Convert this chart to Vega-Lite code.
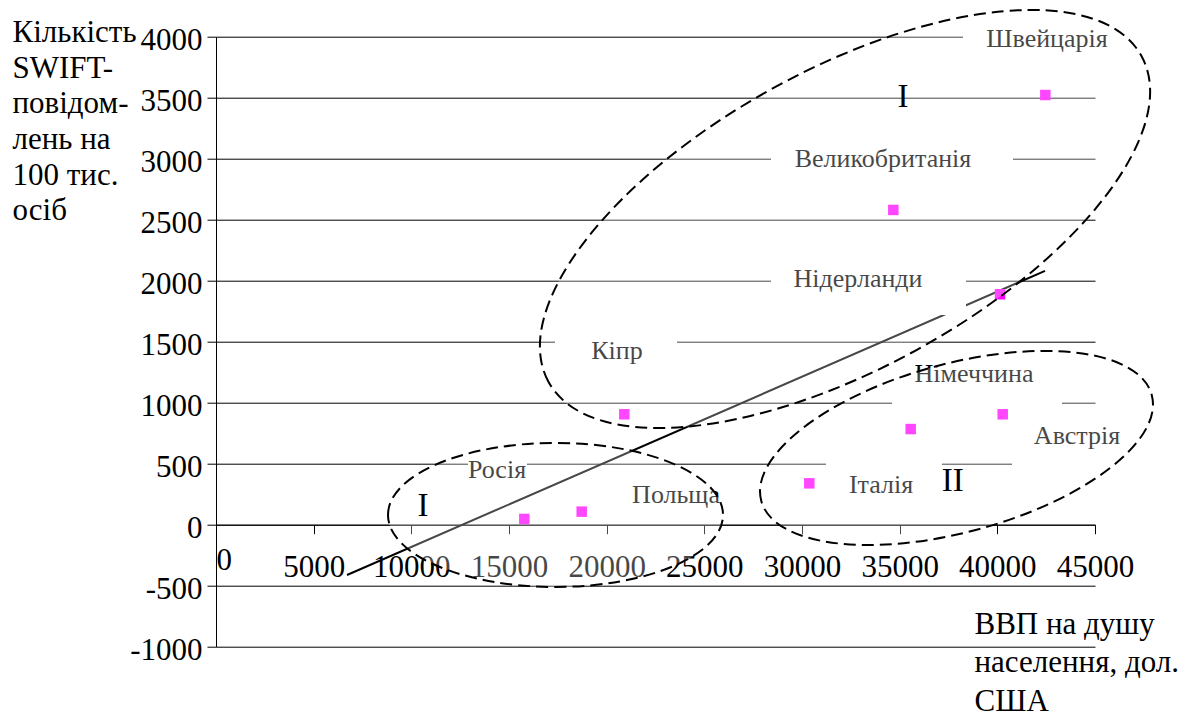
{
  "$schema": "https://vega.github.io/schema/vega-lite/v6.json",
  "width": 879,
  "height": 610,
  "autosize": {"type": "none"},
  "padding": {"left": 216, "top": 36.7, "right": 99, "bottom": 70.3},
  "background": "white",
  "config": {"view": {"stroke": null}, "font": "Liberation Serif"},
  "datasets": {
    "countries": [
      {"country": "Швейцарія", "gdp": 42457, "swift": 3522},
      {"country": "Великобританія", "gdp": 34675, "swift": 2580},
      {"country": "Нідерланди", "gdp": 40137, "swift": 1889},
      {"country": "Кіпр", "gdp": 20903, "swift": 905},
      {"country": "Австрія", "gdp": 40275, "swift": 905},
      {"country": "Німеччина", "gdp": 35565, "swift": 784},
      {"country": "Італія", "gdp": 30374, "swift": 339},
      {"country": "Росія", "gdp": 15784, "swift": 47},
      {"country": "Польща", "gdp": 18722, "swift": 107}
    ],
    "labels": [
      {"label": "Швейцарія", "kind": "country", "gdp": 42543, "swift": 3918},
      {"label": "Великобританія", "kind": "country", "gdp": 34147, "swift": 2934},
      {"label": "Нідерланди", "kind": "country", "gdp": 32867, "swift": 1951},
      {"label": "Кіпр", "kind": "country", "gdp": 20529, "swift": 1356},
      {"label": "Німеччина", "kind": "country", "gdp": 38806, "swift": 1172},
      {"label": "Австрія", "kind": "country", "gdp": 44079, "swift": 659},
      {"label": "Італія", "kind": "country", "gdp": 34045, "swift": 262},
      {"label": "Росія", "kind": "country", "gdp": 14386, "swift": 385},
      {"label": "Польща", "kind": "country", "gdp": 23550, "swift": 180},
      {"label": "I", "kind": "group", "gdp": 35171, "swift": 3426},
      {"label": "II", "kind": "group", "gdp": 37715, "swift": 279},
      {"label": "I", "kind": "group", "gdp": 10597, "swift": 71}
    ],
    "boxes": [
      {"label": "Швейцарія", "gdp": 38243, "gdp2": 46843, "swift": 4162, "swift2": 3809},
      {"label": "Великобританія", "gdp": 28413, "gdp2": 40802, "swift": 3153, "swift2": 2826},
      {"label": "Нідерланди", "gdp": 28413, "gdp2": 38396, "swift": 2203, "swift2": 1719},
      {"label": "Кіпр", "gdp": 17355, "gdp2": 23601, "swift": 1637, "swift2": 1170},
      {"label": "Німеччина", "gdp": 34608, "gdp2": 43311, "swift": 1448, "swift2": 973},
      {"label": "Австрія", "gdp": 40751, "gdp2": 47560, "swift": 899, "swift2": 448},
      {"label": "Італія", "gdp": 31229, "gdp2": 37168, "swift": 571, "swift2": 161},
      {"label": "Росія", "gdp": 12901, "gdp2": 15922, "swift": 596, "swift2": 301}
    ],
    "trend": [
      {"gdp": 6707, "swift": -412},
      {"gdp": 42441, "swift": 2080}
    ],
    "ellipses": [
      {"group": "I-top", "gdp": 32202, "swift": 2506},
      {"group": "II", "gdp": 37910, "swift": 629},
      {"group": "I-bottom", "gdp": 17381, "swift": 80}
    ]
  },
  "encoding": {
    "x": {
      "field": "gdp",
      "type": "quantitative",
      "scale": {"domain": [0, 45000], "nice": false, "zero": false},
      "axis": {
        "orient": "bottom",
        "offset": -122,
        "values": [0, 5000, 10000, 15000, 20000, 25000, 30000, 35000, 40000, 45000],
        "labelExpr": "'' + datum.value",
        "grid": false,
        "domainColor": "black",
        "domainWidth": 1,
        "tickSize": 9,
        "tickColor": "black",
        "tickWidth": 1,
        "labelFont": "Liberation Serif",
        "labelFontSize": 31,
        "labelColor": "black",
        "labelBaseline": {"condition": {"test": "datum.value === 0", "value": "bottom"}, "value": "alphabetic"},
        "labelAlign": {"condition": {"test": "datum.value === 0", "value": "left"}, "value": "center"},
        "labelPadding": 43,
        "labelFlush": false,
        "labelOverlap": false,
        "title": ["ВВП на душу", "населення, дол.", "США"],
        "titleFont": "Liberation Serif",
        "titleFontSize": 31,
        "titleFontWeight": "normal",
        "titleColor": "black",
        "titleX": 758,
        "titleY": 108.3,
        "titleAlign": "left",
        "titleAngle": 0,
        "titleBaseline": "alphabetic",
        "titleLineHeight": 38.5
      }
    },
    "y": {
      "field": "swift",
      "type": "quantitative",
      "scale": {"domain": [-1000, 4000], "nice": false, "zero": false},
      "axis": {
        "values": [-1000, -500, 0, 500, 1000, 1500, 2000, 2500, 3000, 3500, 4000],
        "labelExpr": "'' + datum.value",
        "grid": true,
        "gridColor": "black",
        "gridWidth": 1,
        "gridOpacity": 1,
        "domainColor": "black",
        "domainWidth": 1,
        "tickSize": 9,
        "tickColor": "black",
        "tickWidth": 1,
        "labelFont": "Liberation Serif",
        "labelFontSize": 31,
        "labelColor": "black",
        "labelPadding": 5,
        "labelBaseline": "alphabetic",
        "labelOffset": 13,
        "labelOverlap": false,
        "labelFlush": false,
        "title": ["Кількість", "SWIFT-", "повідом-", "лень на", "100 тис.", "осіб"],
        "titleFont": "Liberation Serif",
        "titleFontSize": 31,
        "titleFontWeight": "normal",
        "titleColor": "black",
        "titleX": -204,
        "titleY": 5,
        "titleAlign": "left",
        "titleAngle": 0,
        "titleBaseline": "alphabetic",
        "titleLineHeight": 35.6
      }
    }
  },
  "layer": [
    {
      "data": {"name": "trend"},
      "mark": {"type": "line", "color": "black", "strokeWidth": 2},
      "encoding": {}
    },
    {
      "data": {"name": "countries"},
      "mark": {"type": "point", "shape": "square", "filled": true, "color": "#FF00FF", "size": 110, "opacity": 1}
    },
    {
      "data": {"name": "boxes"},
      "mark": {"type": "rect", "color": "white", "opacity": 1},
      "encoding": {"x2": {"field": "gdp2"}, "y2": {"field": "swift2"}}
    },
    {
      "data": {"name": "labels"},
      "transform": [{"filter": "datum.kind === 'country'"}],
      "mark": {"type": "text", "font": "Liberation Serif", "fontSize": 26, "align": "center", "baseline": "alphabetic", "color": "black"},
      "encoding": {"text": {"field": "label"}}
    },
    {
      "data": {"name": "ellipses"},
      "transform": [{"filter": "datum.group === 'I-top'"}],
      "mark": {"type": "point", "shape": "M -1 0 C -1 -0.2437 -0.5523 -0.4413 0 -0.4413 C 0.5523 -0.4413 1 -0.2437 1 0 C 1 0.2437 0.5523 0.4413 0 0.4413 C -0.5523 0.4413 -1 0.2437 -1 0 Z", "size": 457788, "angle": 331.2, "filled": true, "fill": "white", "fillOpacity": 0.28, "stroke": "black", "strokeOpacity": 1, "strokeWidth": 2, "strokeDash": [12, 6], "opacity": 1}
    },
    {
      "data": {"name": "ellipses"},
      "transform": [{"filter": "datum.group === 'II'"}],
      "mark": {"type": "point", "shape": "M -1 0 C -1 -0.2299 -0.5523 -0.4162 0 -0.4162 C 0.5523 -0.4162 1 -0.2299 1 0 C 1 0.2299 0.5523 0.4162 0 0.4162 C -0.5523 0.4162 -1 0.2299 -1 0 Z", "size": 163701, "angle": 344.8, "filled": true, "fill": "white", "fillOpacity": 0.28, "stroke": "black", "strokeOpacity": 1, "strokeWidth": 2, "strokeDash": [12, 6], "opacity": 1}
    },
    {
      "data": {"name": "ellipses"},
      "transform": [{"filter": "datum.group === 'I-bottom'"}],
      "mark": {"type": "point", "shape": "M -1 0 C -1 -0.2374 -0.5523 -0.4299 0 -0.4299 C 0.5523 -0.4299 1 -0.2374 1 0 C 1 0.2374 0.5523 0.4299 0 0.4299 C -0.5523 0.4299 -1 0.2374 -1 0 Z", "size": 112225, "angle": 0, "filled": true, "fill": "white", "fillOpacity": 0.28, "stroke": "black", "strokeOpacity": 1, "strokeWidth": 2, "strokeDash": [12, 6], "opacity": 1}
    },
    {
      "data": {"name": "labels"},
      "transform": [{"filter": "datum.kind === 'group'"}],
      "mark": {"type": "text", "font": "Liberation Serif", "fontSize": 33, "align": "center", "baseline": "alphabetic", "color": "black"},
      "encoding": {"text": {"field": "label"}}
    }
  ]
}
